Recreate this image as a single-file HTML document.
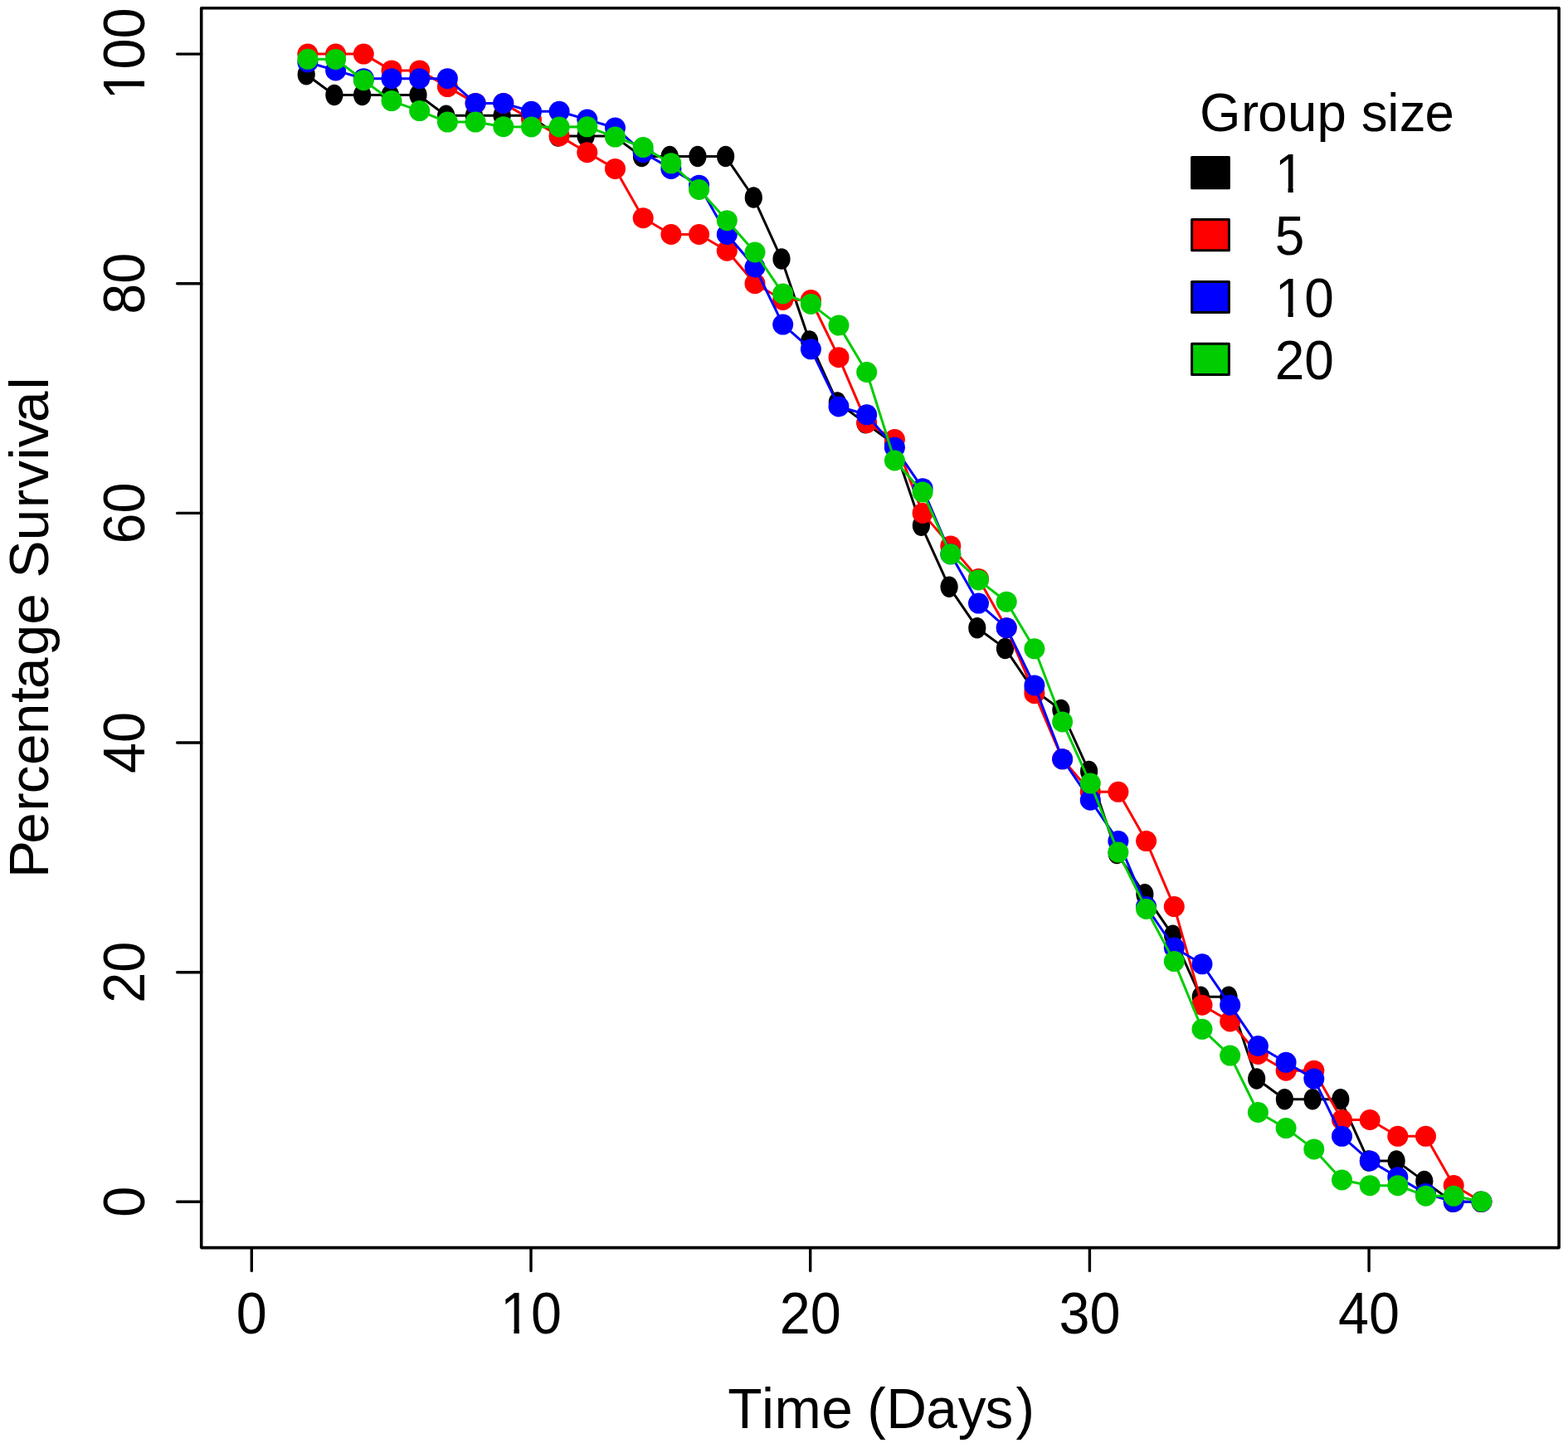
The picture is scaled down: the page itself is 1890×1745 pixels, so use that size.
<!DOCTYPE html>
<html><head><meta charset="utf-8"><title>Percentage Survival by Group size</title>
<style>html,body{margin:0;padding:0;background:#fff;}svg{display:block;}text{font-kerning:none;font-feature-settings:"kern" 0;}</style></head>
<body>
<svg width="1890" height="1745" viewBox="0 0 1890 1745">
<rect width="1890" height="1745" fill="#fff"/>
<rect x="242.7" y="9.8" width="1636.4" height="1493.8" fill="none" stroke="#000" stroke-width="3.6" stroke-linejoin="round"/>
<line x1="213.6" y1="1448.3" x2="242.7" y2="1448.3" stroke="#000" stroke-width="3.4" stroke-linecap="round"/>
<line x1="213.6" y1="1171.7" x2="242.7" y2="1171.7" stroke="#000" stroke-width="3.4" stroke-linecap="round"/>
<line x1="213.6" y1="895.0" x2="242.7" y2="895.0" stroke="#000" stroke-width="3.4" stroke-linecap="round"/>
<line x1="213.6" y1="618.4" x2="242.7" y2="618.4" stroke="#000" stroke-width="3.4" stroke-linecap="round"/>
<line x1="213.6" y1="341.7" x2="242.7" y2="341.7" stroke="#000" stroke-width="3.4" stroke-linecap="round"/>
<line x1="213.6" y1="65.1" x2="242.7" y2="65.1" stroke="#000" stroke-width="3.4" stroke-linecap="round"/>
<line x1="303.3" y1="1503.6" x2="303.3" y2="1531.5" stroke="#000" stroke-width="3.4" stroke-linecap="round"/>
<line x1="640.0" y1="1503.6" x2="640.0" y2="1531.5" stroke="#000" stroke-width="3.4" stroke-linecap="round"/>
<line x1="976.7" y1="1503.6" x2="976.7" y2="1531.5" stroke="#000" stroke-width="3.4" stroke-linecap="round"/>
<line x1="1313.4" y1="1503.6" x2="1313.4" y2="1531.5" stroke="#000" stroke-width="3.4" stroke-linecap="round"/>
<line x1="1650.1" y1="1503.6" x2="1650.1" y2="1531.5" stroke="#000" stroke-width="3.4" stroke-linecap="round"/>
<g transform="translate(303.3,1607.0) scale(1,1.06)"><text x="0" y="0" text-anchor="middle" font-family="Liberation Sans, Arial, sans-serif" font-size="66.5">0</text></g>
<g transform="translate(640.0,1607.0) scale(1,1.06)"><text x="0" y="0" text-anchor="middle" font-family="Liberation Sans, Arial, sans-serif" font-size="66.5">10</text><rect x="-33.12" y="-6.77" width="12.61" height="8.37" fill="#fff"/><rect x="-14.13" y="-6.77" width="12.09" height="8.37" fill="#fff"/></g>
<g transform="translate(976.7,1607.0) scale(1,1.06)"><text x="0" y="0" text-anchor="middle" font-family="Liberation Sans, Arial, sans-serif" font-size="66.5">20</text></g>
<g transform="translate(1313.4,1607.0) scale(1,1.06)"><text x="0" y="0" text-anchor="middle" font-family="Liberation Sans, Arial, sans-serif" font-size="66.5">30</text></g>
<g transform="translate(1650.1,1607.0) scale(1,1.06)"><text x="0" y="0" text-anchor="middle" font-family="Liberation Sans, Arial, sans-serif" font-size="66.5">40</text></g>
<g transform="translate(174.4,1448.3) rotate(-90) scale(1,1.06)"><text x="0" y="0" text-anchor="middle" font-family="Liberation Sans, Arial, sans-serif" font-size="66.5">0</text></g>
<g transform="translate(174.4,1171.7) rotate(-90) scale(1,1.06)"><text x="0" y="0" text-anchor="middle" font-family="Liberation Sans, Arial, sans-serif" font-size="66.5">20</text></g>
<g transform="translate(174.4,895.0) rotate(-90) scale(1,1.06)"><text x="0" y="0" text-anchor="middle" font-family="Liberation Sans, Arial, sans-serif" font-size="66.5">40</text></g>
<g transform="translate(174.4,618.4) rotate(-90) scale(1,1.06)"><text x="0" y="0" text-anchor="middle" font-family="Liberation Sans, Arial, sans-serif" font-size="66.5">60</text></g>
<g transform="translate(174.4,341.7) rotate(-90) scale(1,1.06)"><text x="0" y="0" text-anchor="middle" font-family="Liberation Sans, Arial, sans-serif" font-size="66.5">80</text></g>
<g transform="translate(174.4,65.1) rotate(-90) scale(1,1.06)"><text x="0" y="0" text-anchor="middle" font-family="Liberation Sans, Arial, sans-serif" font-size="66.5">100</text><rect x="-51.61" y="-6.77" width="12.61" height="8.37" fill="#fff"/><rect x="-32.63" y="-6.77" width="12.09" height="8.37" fill="#fff"/></g>
<text x="877.17 918.06 933.63 990.17 1027.76 1045.20 1068.14 1116.17 1154.68 1187.38 1224.59" y="0" transform="translate(0,1721.3) scale(1,1.01)" font-family="Liberation Sans, Arial, sans-serif" font-size="67.6">Time (Days)</text>
<text x="-1057.93 -1016.84 -977.66 -956.16 -922.04 -884.96 -846.88 -830.09 -790.35 -752.74 -715.23 -696.38 -651.16 -612.16 -588.76 -554.58 -539.21 -509.04 -469.46" y="0" transform="translate(57.6,0) rotate(-90) scale(1,1.0)" font-family="Liberation Sans, Arial, sans-serif" font-size="67.45">Percentage Survival</text>
<text x="1446.09 1495.98 1516.26 1552.11 1587.55 1622.92 1640.81 1672.25 1686.75 1717.38" y="0" transform="translate(0,158.2) scale(1,1.03)" font-family="Liberation Sans, Arial, sans-serif" font-size="63.6">Group size</text>
<rect x="1436.6" y="189.6" width="44.8" height="37.2" fill="#000000" stroke="#000" stroke-width="3.0" stroke-linejoin="round"/>
<g transform="translate(1536.7,232.0) scale(1,1.04)"><text x="0" y="0" font-family="Liberation Sans, Arial, sans-serif" font-size="64.0">1</text><rect x="3.67" y="-6.58" width="12.17" height="8.18" fill="#fff"/><rect x="22.00" y="-6.58" width="11.67" height="8.18" fill="#fff"/></g>
<rect x="1436.6" y="264.5" width="44.8" height="37.2" fill="#ff0000" stroke="#000" stroke-width="3.0" stroke-linejoin="round"/>
<g transform="translate(1536.7,306.9) scale(1,1.04)"><text x="0" y="0" font-family="Liberation Sans, Arial, sans-serif" font-size="64.0">5</text></g>
<rect x="1436.6" y="339.4" width="44.8" height="37.2" fill="#0000ff" stroke="#000" stroke-width="3.0" stroke-linejoin="round"/>
<g transform="translate(1536.7,381.8) scale(1,1.04)"><text x="0" y="0" font-family="Liberation Sans, Arial, sans-serif" font-size="64.0">10</text><rect x="3.67" y="-6.58" width="12.17" height="8.18" fill="#fff"/><rect x="22.00" y="-6.58" width="11.67" height="8.18" fill="#fff"/></g>
<rect x="1436.6" y="414.3" width="44.8" height="37.2" fill="#00cd00" stroke="#000" stroke-width="3.0" stroke-linejoin="round"/>
<g transform="translate(1536.7,456.7) scale(1,1.04)"><text x="0" y="0" font-family="Liberation Sans, Arial, sans-serif" font-size="64.0">20</text></g>
<path d="M369.2,89.8 L402.9,114.5 L436.6,114.5 L470.3,114.5 L504.0,114.5 L537.7,139.2 L571.4,139.2 L605.1,139.2 L638.8,139.2 L672.4,163.9 L706.1,163.9 L739.8,163.9 L773.5,188.6 L807.2,188.6 L840.9,188.6 L874.6,188.6 L908.3,238.0 L942.0,312.1 L975.7,410.9 L1009.3,485.0 L1043.0,509.7 L1076.7,534.4 L1110.4,633.2 L1144.1,707.3 L1177.8,756.7 L1211.5,781.4 L1245.2,830.8 L1278.9,855.5 L1312.6,929.6 L1346.2,1028.4 L1379.9,1077.8 L1413.6,1127.2 L1447.3,1201.3 L1481.0,1201.3 L1514.7,1300.1 L1548.4,1324.8 L1582.1,1324.8 L1615.8,1324.8 L1649.5,1398.9 L1683.1,1398.9 L1716.8,1423.6 L1750.5,1448.3 L1784.2,1448.3" fill="none" stroke="#000000" stroke-width="3.0" stroke-linejoin="round" stroke-linecap="round"/>
<ellipse cx="369.2" cy="89.8" rx="10.6" ry="12.75" fill="#000000"/>
<ellipse cx="402.9" cy="114.5" rx="10.6" ry="12.75" fill="#000000"/>
<ellipse cx="436.6" cy="114.5" rx="10.6" ry="12.75" fill="#000000"/>
<ellipse cx="470.3" cy="114.5" rx="10.6" ry="12.75" fill="#000000"/>
<ellipse cx="504.0" cy="114.5" rx="10.6" ry="12.75" fill="#000000"/>
<ellipse cx="537.7" cy="139.2" rx="10.6" ry="12.75" fill="#000000"/>
<ellipse cx="571.4" cy="139.2" rx="10.6" ry="12.75" fill="#000000"/>
<ellipse cx="605.1" cy="139.2" rx="10.6" ry="12.75" fill="#000000"/>
<ellipse cx="638.8" cy="139.2" rx="10.6" ry="12.75" fill="#000000"/>
<ellipse cx="672.4" cy="163.9" rx="10.6" ry="12.75" fill="#000000"/>
<ellipse cx="706.1" cy="163.9" rx="10.6" ry="12.75" fill="#000000"/>
<ellipse cx="739.8" cy="163.9" rx="10.6" ry="12.75" fill="#000000"/>
<ellipse cx="773.5" cy="188.6" rx="10.6" ry="12.75" fill="#000000"/>
<ellipse cx="807.2" cy="188.6" rx="10.6" ry="12.75" fill="#000000"/>
<ellipse cx="840.9" cy="188.6" rx="10.6" ry="12.75" fill="#000000"/>
<ellipse cx="874.6" cy="188.6" rx="10.6" ry="12.75" fill="#000000"/>
<ellipse cx="908.3" cy="238.0" rx="10.6" ry="12.75" fill="#000000"/>
<ellipse cx="942.0" cy="312.1" rx="10.6" ry="12.75" fill="#000000"/>
<ellipse cx="975.7" cy="410.9" rx="10.6" ry="12.75" fill="#000000"/>
<ellipse cx="1009.3" cy="485.0" rx="10.6" ry="12.75" fill="#000000"/>
<ellipse cx="1043.0" cy="509.7" rx="10.6" ry="12.75" fill="#000000"/>
<ellipse cx="1076.7" cy="534.4" rx="10.6" ry="12.75" fill="#000000"/>
<ellipse cx="1110.4" cy="633.2" rx="10.6" ry="12.75" fill="#000000"/>
<ellipse cx="1144.1" cy="707.3" rx="10.6" ry="12.75" fill="#000000"/>
<ellipse cx="1177.8" cy="756.7" rx="10.6" ry="12.75" fill="#000000"/>
<ellipse cx="1211.5" cy="781.4" rx="10.6" ry="12.75" fill="#000000"/>
<ellipse cx="1245.2" cy="830.8" rx="10.6" ry="12.75" fill="#000000"/>
<ellipse cx="1278.9" cy="855.5" rx="10.6" ry="12.75" fill="#000000"/>
<ellipse cx="1312.6" cy="929.6" rx="10.6" ry="12.75" fill="#000000"/>
<ellipse cx="1346.2" cy="1028.4" rx="10.6" ry="12.75" fill="#000000"/>
<ellipse cx="1379.9" cy="1077.8" rx="10.6" ry="12.75" fill="#000000"/>
<ellipse cx="1413.6" cy="1127.2" rx="10.6" ry="12.75" fill="#000000"/>
<ellipse cx="1447.3" cy="1201.3" rx="10.6" ry="12.75" fill="#000000"/>
<ellipse cx="1481.0" cy="1201.3" rx="10.6" ry="12.75" fill="#000000"/>
<ellipse cx="1514.7" cy="1300.1" rx="10.6" ry="12.75" fill="#000000"/>
<ellipse cx="1548.4" cy="1324.8" rx="10.6" ry="12.75" fill="#000000"/>
<ellipse cx="1582.1" cy="1324.8" rx="10.6" ry="12.75" fill="#000000"/>
<ellipse cx="1615.8" cy="1324.8" rx="10.6" ry="12.75" fill="#000000"/>
<ellipse cx="1649.5" cy="1398.9" rx="10.6" ry="12.75" fill="#000000"/>
<ellipse cx="1683.1" cy="1398.9" rx="10.6" ry="12.75" fill="#000000"/>
<ellipse cx="1716.8" cy="1423.6" rx="10.6" ry="12.75" fill="#000000"/>
<ellipse cx="1750.5" cy="1448.3" rx="10.6" ry="12.75" fill="#000000"/>
<ellipse cx="1784.2" cy="1448.3" rx="10.6" ry="12.75" fill="#000000"/>
<path d="M370.9,65.1 L404.6,65.1 L438.3,65.1 L472.0,84.9 L505.7,84.9 L539.4,104.6 L573.1,124.4 L606.8,124.4 L640.5,144.1 L674.1,163.9 L707.8,183.7 L741.5,203.4 L775.2,262.7 L808.9,282.5 L842.6,282.5 L876.3,302.2 L910.0,341.7 L943.7,361.5 L977.4,361.5 L1011.0,430.7 L1044.7,509.7 L1078.4,529.5 L1112.1,618.4 L1145.8,657.9 L1179.5,697.4 L1213.2,756.7 L1246.9,835.7 L1280.6,914.8 L1314.3,954.3 L1347.9,954.3 L1381.6,1013.6 L1415.3,1092.6 L1449.0,1211.2 L1482.7,1230.9 L1516.4,1270.5 L1550.1,1290.2 L1583.8,1290.2 L1617.5,1349.5 L1651.2,1349.5 L1684.8,1369.3 L1718.5,1369.3 L1752.2,1428.5 L1785.9,1448.3" fill="none" stroke="#ff0000" stroke-width="3.0" stroke-linejoin="round" stroke-linecap="round"/>
<circle cx="370.9" cy="65.1" r="12.5" fill="#ff0000"/>
<circle cx="404.6" cy="65.1" r="12.5" fill="#ff0000"/>
<circle cx="438.3" cy="65.1" r="12.5" fill="#ff0000"/>
<circle cx="472.0" cy="84.9" r="12.5" fill="#ff0000"/>
<circle cx="505.7" cy="84.9" r="12.5" fill="#ff0000"/>
<circle cx="539.4" cy="104.6" r="12.5" fill="#ff0000"/>
<circle cx="573.1" cy="124.4" r="12.5" fill="#ff0000"/>
<circle cx="606.8" cy="124.4" r="12.5" fill="#ff0000"/>
<circle cx="640.5" cy="144.1" r="12.5" fill="#ff0000"/>
<circle cx="674.1" cy="163.9" r="12.5" fill="#ff0000"/>
<circle cx="707.8" cy="183.7" r="12.5" fill="#ff0000"/>
<circle cx="741.5" cy="203.4" r="12.5" fill="#ff0000"/>
<circle cx="775.2" cy="262.7" r="12.5" fill="#ff0000"/>
<circle cx="808.9" cy="282.5" r="12.5" fill="#ff0000"/>
<circle cx="842.6" cy="282.5" r="12.5" fill="#ff0000"/>
<circle cx="876.3" cy="302.2" r="12.5" fill="#ff0000"/>
<circle cx="910.0" cy="341.7" r="12.5" fill="#ff0000"/>
<circle cx="943.7" cy="361.5" r="12.5" fill="#ff0000"/>
<circle cx="977.4" cy="361.5" r="12.5" fill="#ff0000"/>
<circle cx="1011.0" cy="430.7" r="12.5" fill="#ff0000"/>
<circle cx="1044.7" cy="509.7" r="12.5" fill="#ff0000"/>
<circle cx="1078.4" cy="529.5" r="12.5" fill="#ff0000"/>
<circle cx="1112.1" cy="618.4" r="12.5" fill="#ff0000"/>
<circle cx="1145.8" cy="657.9" r="12.5" fill="#ff0000"/>
<circle cx="1179.5" cy="697.4" r="12.5" fill="#ff0000"/>
<circle cx="1213.2" cy="756.7" r="12.5" fill="#ff0000"/>
<circle cx="1246.9" cy="835.7" r="12.5" fill="#ff0000"/>
<circle cx="1280.6" cy="914.8" r="12.5" fill="#ff0000"/>
<circle cx="1314.3" cy="954.3" r="12.5" fill="#ff0000"/>
<circle cx="1347.9" cy="954.3" r="12.5" fill="#ff0000"/>
<circle cx="1381.6" cy="1013.6" r="12.5" fill="#ff0000"/>
<circle cx="1415.3" cy="1092.6" r="12.5" fill="#ff0000"/>
<circle cx="1449.0" cy="1211.2" r="12.5" fill="#ff0000"/>
<circle cx="1482.7" cy="1230.9" r="12.5" fill="#ff0000"/>
<circle cx="1516.4" cy="1270.5" r="12.5" fill="#ff0000"/>
<circle cx="1550.1" cy="1290.2" r="12.5" fill="#ff0000"/>
<circle cx="1583.8" cy="1290.2" r="12.5" fill="#ff0000"/>
<circle cx="1617.5" cy="1349.5" r="12.5" fill="#ff0000"/>
<circle cx="1651.2" cy="1349.5" r="12.5" fill="#ff0000"/>
<circle cx="1684.8" cy="1369.3" r="12.5" fill="#ff0000"/>
<circle cx="1718.5" cy="1369.3" r="12.5" fill="#ff0000"/>
<circle cx="1752.2" cy="1428.5" r="12.5" fill="#ff0000"/>
<circle cx="1785.9" cy="1448.3" r="12.5" fill="#ff0000"/>
<path d="M370.9,75.0 L404.6,84.9 L438.3,94.7 L472.0,94.7 L505.7,94.7 L539.4,94.7 L573.1,124.4 L606.8,124.4 L640.5,134.3 L674.1,134.3 L707.8,144.1 L741.5,154.0 L775.2,183.7 L808.9,203.4 L842.6,223.2 L876.3,282.5 L910.0,322.0 L943.7,391.1 L977.4,420.8 L1011.0,489.9 L1044.7,499.8 L1078.4,539.3 L1112.1,588.7 L1145.8,667.8 L1179.5,727.1 L1213.2,756.7 L1246.9,825.9 L1280.6,914.8 L1314.3,964.2 L1347.9,1013.6 L1381.6,1092.6 L1415.3,1142.0 L1449.0,1161.8 L1482.7,1211.2 L1516.4,1260.6 L1550.1,1280.3 L1583.8,1300.1 L1617.5,1369.3 L1651.2,1398.9 L1684.8,1418.7 L1718.5,1438.4 L1752.2,1448.3 L1785.9,1448.3" fill="none" stroke="#0000ff" stroke-width="3.0" stroke-linejoin="round" stroke-linecap="round"/>
<circle cx="370.9" cy="75.0" r="12.5" fill="#0000ff"/>
<circle cx="404.6" cy="84.9" r="12.5" fill="#0000ff"/>
<circle cx="438.3" cy="94.7" r="12.5" fill="#0000ff"/>
<circle cx="472.0" cy="94.7" r="12.5" fill="#0000ff"/>
<circle cx="505.7" cy="94.7" r="12.5" fill="#0000ff"/>
<circle cx="539.4" cy="94.7" r="12.5" fill="#0000ff"/>
<circle cx="573.1" cy="124.4" r="12.5" fill="#0000ff"/>
<circle cx="606.8" cy="124.4" r="12.5" fill="#0000ff"/>
<circle cx="640.5" cy="134.3" r="12.5" fill="#0000ff"/>
<circle cx="674.1" cy="134.3" r="12.5" fill="#0000ff"/>
<circle cx="707.8" cy="144.1" r="12.5" fill="#0000ff"/>
<circle cx="741.5" cy="154.0" r="12.5" fill="#0000ff"/>
<circle cx="775.2" cy="183.7" r="12.5" fill="#0000ff"/>
<circle cx="808.9" cy="203.4" r="12.5" fill="#0000ff"/>
<circle cx="842.6" cy="223.2" r="12.5" fill="#0000ff"/>
<circle cx="876.3" cy="282.5" r="12.5" fill="#0000ff"/>
<circle cx="910.0" cy="322.0" r="12.5" fill="#0000ff"/>
<circle cx="943.7" cy="391.1" r="12.5" fill="#0000ff"/>
<circle cx="977.4" cy="420.8" r="12.5" fill="#0000ff"/>
<circle cx="1011.0" cy="489.9" r="12.5" fill="#0000ff"/>
<circle cx="1044.7" cy="499.8" r="12.5" fill="#0000ff"/>
<circle cx="1078.4" cy="539.3" r="12.5" fill="#0000ff"/>
<circle cx="1112.1" cy="588.7" r="12.5" fill="#0000ff"/>
<circle cx="1145.8" cy="667.8" r="12.5" fill="#0000ff"/>
<circle cx="1179.5" cy="727.1" r="12.5" fill="#0000ff"/>
<circle cx="1213.2" cy="756.7" r="12.5" fill="#0000ff"/>
<circle cx="1246.9" cy="825.9" r="12.5" fill="#0000ff"/>
<circle cx="1280.6" cy="914.8" r="12.5" fill="#0000ff"/>
<circle cx="1314.3" cy="964.2" r="12.5" fill="#0000ff"/>
<circle cx="1347.9" cy="1013.6" r="12.5" fill="#0000ff"/>
<circle cx="1381.6" cy="1092.6" r="12.5" fill="#0000ff"/>
<circle cx="1415.3" cy="1142.0" r="12.5" fill="#0000ff"/>
<circle cx="1449.0" cy="1161.8" r="12.5" fill="#0000ff"/>
<circle cx="1482.7" cy="1211.2" r="12.5" fill="#0000ff"/>
<circle cx="1516.4" cy="1260.6" r="12.5" fill="#0000ff"/>
<circle cx="1550.1" cy="1280.3" r="12.5" fill="#0000ff"/>
<circle cx="1583.8" cy="1300.1" r="12.5" fill="#0000ff"/>
<circle cx="1617.5" cy="1369.3" r="12.5" fill="#0000ff"/>
<circle cx="1651.2" cy="1398.9" r="12.5" fill="#0000ff"/>
<circle cx="1684.8" cy="1418.7" r="12.5" fill="#0000ff"/>
<circle cx="1718.5" cy="1438.4" r="12.5" fill="#0000ff"/>
<circle cx="1752.2" cy="1448.3" r="12.5" fill="#0000ff"/>
<circle cx="1785.9" cy="1448.3" r="12.5" fill="#0000ff"/>
<path d="M370.9,71.3 L404.6,71.4 L438.3,96.7 L472.0,121.6 L505.7,133.6 L539.4,147.1 L573.1,147.1 L606.8,152.7 L640.5,153.0 L674.1,153.0 L707.8,152.8 L741.5,165.1 L775.2,177.6 L808.9,196.8 L842.6,228.5 L876.3,265.7 L910.0,304.0 L943.7,353.9 L977.4,366.4 L1011.0,392.1 L1044.7,448.5 L1078.4,555.0 L1112.1,593.1 L1145.8,667.8 L1179.5,698.9 L1213.2,725.2 L1246.9,781.8 L1280.6,869.9 L1314.3,944.1 L1347.9,1027.1 L1381.6,1095.5 L1415.3,1158.6 L1449.0,1240.3 L1482.7,1272.1 L1516.4,1340.5 L1550.1,1359.6 L1583.8,1384.9 L1617.5,1422.0 L1651.2,1428.7 L1684.8,1428.7 L1718.5,1441.2 L1752.2,1441.3 L1785.9,1448.0" fill="none" stroke="#00cd00" stroke-width="3.0" stroke-linejoin="round" stroke-linecap="round"/>
<circle cx="370.9" cy="71.3" r="12.5" fill="#00cd00"/>
<circle cx="404.6" cy="71.4" r="12.5" fill="#00cd00"/>
<circle cx="438.3" cy="96.7" r="12.5" fill="#00cd00"/>
<circle cx="472.0" cy="121.6" r="12.5" fill="#00cd00"/>
<circle cx="505.7" cy="133.6" r="12.5" fill="#00cd00"/>
<circle cx="539.4" cy="147.1" r="12.5" fill="#00cd00"/>
<circle cx="573.1" cy="147.1" r="12.5" fill="#00cd00"/>
<circle cx="606.8" cy="152.7" r="12.5" fill="#00cd00"/>
<circle cx="640.5" cy="153.0" r="12.5" fill="#00cd00"/>
<circle cx="674.1" cy="153.0" r="12.5" fill="#00cd00"/>
<circle cx="707.8" cy="152.8" r="12.5" fill="#00cd00"/>
<circle cx="741.5" cy="165.1" r="12.5" fill="#00cd00"/>
<circle cx="775.2" cy="177.6" r="12.5" fill="#00cd00"/>
<circle cx="808.9" cy="196.8" r="12.5" fill="#00cd00"/>
<circle cx="842.6" cy="228.5" r="12.5" fill="#00cd00"/>
<circle cx="876.3" cy="265.7" r="12.5" fill="#00cd00"/>
<circle cx="910.0" cy="304.0" r="12.5" fill="#00cd00"/>
<circle cx="943.7" cy="353.9" r="12.5" fill="#00cd00"/>
<circle cx="977.4" cy="366.4" r="12.5" fill="#00cd00"/>
<circle cx="1011.0" cy="392.1" r="12.5" fill="#00cd00"/>
<circle cx="1044.7" cy="448.5" r="12.5" fill="#00cd00"/>
<circle cx="1078.4" cy="555.0" r="12.5" fill="#00cd00"/>
<circle cx="1112.1" cy="593.1" r="12.5" fill="#00cd00"/>
<circle cx="1145.8" cy="667.8" r="12.5" fill="#00cd00"/>
<circle cx="1179.5" cy="698.9" r="12.5" fill="#00cd00"/>
<circle cx="1213.2" cy="725.2" r="12.5" fill="#00cd00"/>
<circle cx="1246.9" cy="781.8" r="12.5" fill="#00cd00"/>
<circle cx="1280.6" cy="869.9" r="12.5" fill="#00cd00"/>
<circle cx="1314.3" cy="944.1" r="12.5" fill="#00cd00"/>
<circle cx="1347.9" cy="1027.1" r="12.5" fill="#00cd00"/>
<circle cx="1381.6" cy="1095.5" r="12.5" fill="#00cd00"/>
<circle cx="1415.3" cy="1158.6" r="12.5" fill="#00cd00"/>
<circle cx="1449.0" cy="1240.3" r="12.5" fill="#00cd00"/>
<circle cx="1482.7" cy="1272.1" r="12.5" fill="#00cd00"/>
<circle cx="1516.4" cy="1340.5" r="12.5" fill="#00cd00"/>
<circle cx="1550.1" cy="1359.6" r="12.5" fill="#00cd00"/>
<circle cx="1583.8" cy="1384.9" r="12.5" fill="#00cd00"/>
<circle cx="1617.5" cy="1422.0" r="12.5" fill="#00cd00"/>
<circle cx="1651.2" cy="1428.7" r="12.5" fill="#00cd00"/>
<circle cx="1684.8" cy="1428.7" r="12.5" fill="#00cd00"/>
<circle cx="1718.5" cy="1441.2" r="12.5" fill="#00cd00"/>
<circle cx="1752.2" cy="1441.3" r="12.5" fill="#00cd00"/>
<circle cx="1785.9" cy="1448.0" r="12.5" fill="#00cd00"/>
</svg>
</body></html>
